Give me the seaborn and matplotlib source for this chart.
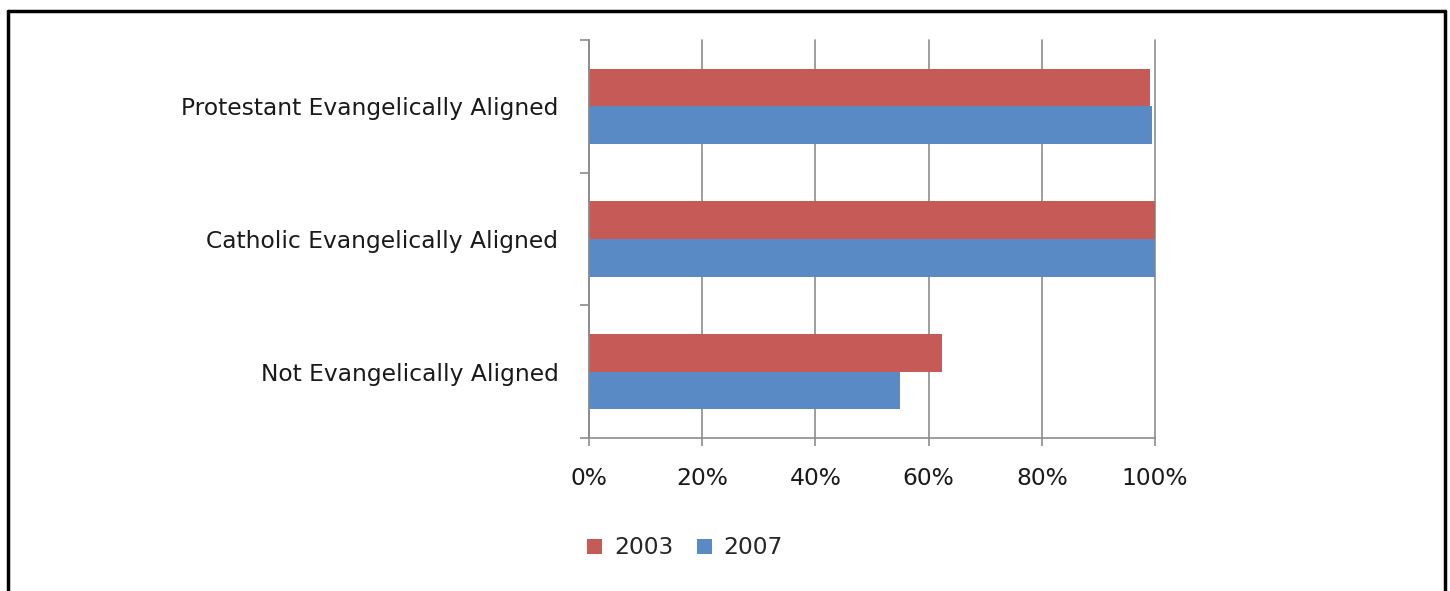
import matplotlib
matplotlib.use("Agg")
import matplotlib.pyplot as plt
import seaborn as sns
import pandas as pd
from matplotlib.lines import Line2D
from matplotlib.patches import Patch
from matplotlib.ticker import FixedLocator, PercentFormatter

categories = ["Protestant Evangelically Aligned", "Catholic Evangelically Aligned", "Not Evangelically Aligned"]
years = ["2003", "2007"]
values_2003 = [99.1, 100.0, 62.4]
values_2007 = [99.5, 100.0, 55.0]
x_ticks = [0, 20, 40, 60, 80, 100]

df = pd.DataFrame({
    "category": categories * 2,
    "year": [years[0]] * 3 + [years[1]] * 3,
    "value": values_2003 + values_2007,
})

sns.set_theme(style="white")
plt.rcParams["font.family"] = ["DejaVu Sans"]

colors = {"2003": "#C55A56", "2007": "#5A8AC6"}
FS = 16.8

fig = plt.figure(figsize=(14.5, 5.91), dpi=100)
ax = fig.add_axes([589 / 1450, 1 - 438 / 591, (1155 - 589) / 1450, (438 - 40) / 591])

sns.barplot(data=df, y="category", x="value", hue="year", hue_order=years,
            order=categories, palette=colors, orient="h", width=0.57,
            saturation=1, ax=ax, legend=False, edgecolor="none")

ax.set_xlim(0, 100)
ax.set_ylim(2.5, -0.5)
ax.set_xlabel("")
ax.set_ylabel("")
ax.xaxis.set_major_locator(FixedLocator(x_ticks))
ax.xaxis.set_major_formatter(PercentFormatter(decimals=0))
ax.grid(axis="x", color="#8c8c8c", linewidth=1.2, clip_on=False)
ax.grid(axis="y", visible=False)
ax.set_axisbelow(True)

for s in ["top", "right"]:
    ax.spines[s].set_visible(False)
for s in ["left", "bottom"]:
    ax.spines[s].set_color("#8c8c8c")
    ax.spines[s].set_linewidth(1.2)

ax.tick_params(axis="x", which="major", length=6, width=1.2, color="#8c8c8c",
               pad=15, labelsize=FS, labelcolor="#1a1a1a", bottom=True)
ax.tick_params(axis="y", which="major", length=0, pad=22, labelsize=FS, labelcolor="#1a1a1a")
ax.yaxis.set_minor_locator(FixedLocator([-0.5, 0.5, 1.5, 2.5]))
ax.tick_params(axis="y", which="minor", length=6.5, width=1.2, color="#8c8c8c", left=True)

handles = [Patch(facecolor=colors[y], edgecolor="none", label=y) for y in years]
fig.legend(handles=handles, loc="center", bbox_to_anchor=(685 / 1450, 1 - 548 / 591),
           ncol=2, frameon=False, fontsize=FS, handlelength=0.65, handleheight=0.65,
           handletextpad=0.5, columnspacing=1.0)

# outer frame (bottom edge cut off in reference)
lw = 2.5
fig.add_artist(Line2D([8 / 1450, 8 / 1450], [0, 1 - 11 / 591], color="black", linewidth=lw, transform=fig.transFigure))
fig.add_artist(Line2D([8 / 1450, 1445 / 1450], [1 - 11 / 591, 1 - 11 / 591], color="black", linewidth=lw, transform=fig.transFigure))
fig.add_artist(Line2D([1445 / 1450, 1445 / 1450], [0, 1 - 11 / 591], color="black", linewidth=lw, transform=fig.transFigure))

fig.savefig("out.png", dpi=100, facecolor="white")
